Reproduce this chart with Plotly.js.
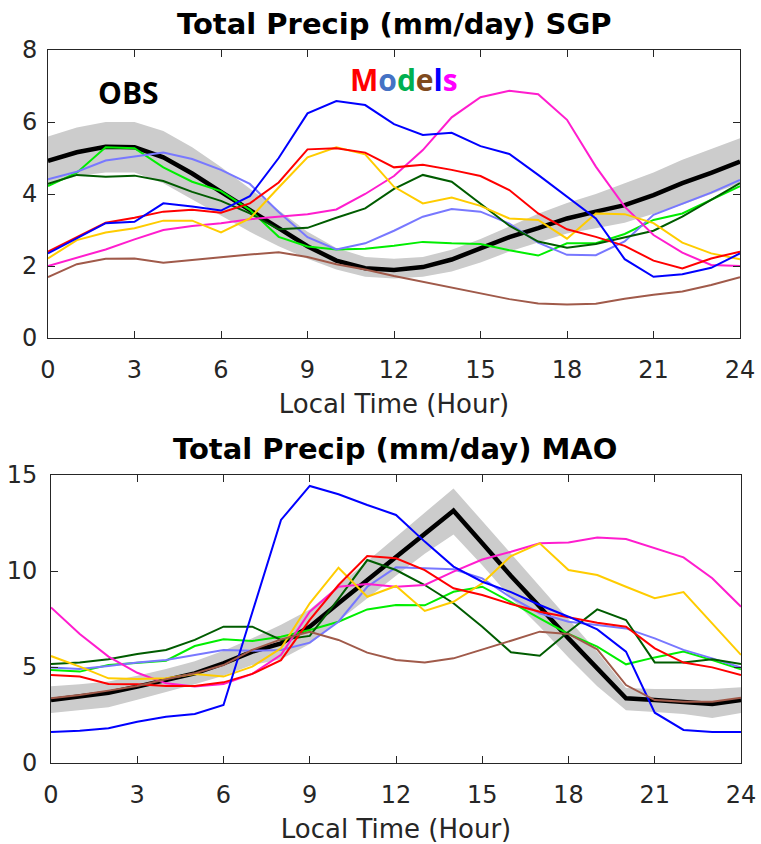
<!DOCTYPE html>
<html>
<head>
<meta charset="utf-8">
<script src="https://cdn.plot.ly/plotly-3.0.1.min.js"></script>
<style>html,body{margin:0;padding:0;background:#fff;}#chart{width:761px;height:844px;}</style>
</head>
<body>
<div id="chart"></div>
<script>
// Local hour (x values)
const hours = [0,1,2,3,4,5,6,7,8,9,10,11,12,13,14,15,16,17,18,19,20,21,22,23,24];
const hourTicks = [0,3,6,9,12,15,18,21,24];

// ---------- SGP (top panel) ----------
const sgpObs      = [4.92,5.16,5.31,5.30,5.02,4.57,4.06,3.56,3.05,2.55,2.15,1.94,1.89,1.97,2.18,2.50,2.80,3.05,3.32,3.51,3.69,3.97,4.30,4.59,4.90];
const sgpObsHigh  = [5.60,5.85,6.00,6.00,5.75,5.30,4.75,4.15,3.55,2.95,2.50,2.25,2.20,2.25,2.45,2.75,3.10,3.45,3.75,4.00,4.30,4.60,4.95,5.25,5.55];
const sgpObsLow   = [4.25,4.50,4.60,4.60,4.30,3.85,3.40,2.95,2.55,2.20,1.90,1.70,1.65,1.70,1.85,2.10,2.40,2.65,2.90,3.05,3.20,3.45,3.70,4.00,4.30];
const sgpBlue     = [2.35,2.77,3.19,3.23,3.74,3.65,3.54,3.94,5.00,6.24,6.58,6.47,5.94,5.64,5.70,5.33,5.11,4.53,3.93,3.32,2.19,1.70,1.77,1.95,2.35];
const sgpRed      = [2.40,2.81,3.20,3.34,3.51,3.56,3.48,3.74,4.32,5.24,5.27,5.15,4.74,4.81,4.67,4.50,4.11,3.46,3.02,2.81,2.56,2.15,1.93,2.21,2.40];
const sgpYellow   = [2.21,2.72,2.93,3.05,3.26,3.26,2.93,3.32,4.18,5.02,5.30,5.10,4.20,3.74,3.90,3.67,3.32,3.28,2.76,3.46,3.44,3.19,2.65,2.35,2.19];
const sgpMagenta  = [2.00,2.24,2.46,2.74,3.00,3.11,3.19,3.30,3.38,3.44,3.57,4.00,4.50,5.22,6.13,6.69,6.87,6.77,6.06,4.76,3.65,2.86,2.37,2.03,2.00];
const sgpDkGreen  = [4.28,4.53,4.48,4.51,4.36,4.06,3.81,3.46,3.02,3.06,3.34,3.60,4.14,4.53,4.34,3.74,3.12,2.68,2.51,2.61,2.79,2.98,3.37,3.83,4.30];
const sgpGreen    = [4.22,4.59,5.30,5.27,4.74,4.34,4.08,3.56,2.81,2.54,2.46,2.48,2.56,2.67,2.63,2.61,2.44,2.29,2.63,2.63,2.89,3.28,3.46,3.85,4.22];
const sgpLtBlue   = [4.41,4.62,4.93,5.04,5.15,4.97,4.67,4.28,3.50,2.80,2.46,2.63,2.98,3.37,3.58,3.51,3.18,2.65,2.31,2.30,2.68,3.42,3.74,4.04,4.39];
const sgpBrown    = [1.69,2.05,2.20,2.21,2.09,2.17,2.23,2.32,2.38,2.25,2.05,1.90,1.72,1.56,1.39,1.25,1.08,0.96,0.93,0.95,1.09,1.20,1.29,1.47,1.69];

// ---------- MAO (bottom panel) ----------
const maoObs      = [3.28,3.45,3.66,3.98,4.32,4.67,5.19,5.80,6.23,7.10,8.32,9.53,10.75,11.96,13.14,11.44,9.74,8.14,6.49,4.93,3.37,3.28,3.19,3.07,3.28];
const maoObsHigh  = [4.00,4.10,4.25,4.55,4.90,5.30,5.85,6.50,7.20,8.00,9.25,10.50,11.75,13.00,14.30,12.60,10.90,9.20,7.50,5.80,3.90,3.85,3.85,3.85,3.95];
const maoObsLow   = [2.60,2.75,2.90,3.30,3.70,4.10,4.55,5.10,5.40,6.20,7.40,8.60,9.75,10.90,11.90,10.30,8.60,7.10,5.50,4.00,2.75,2.65,2.55,2.35,2.60];
const maoBlue     = [1.61,1.68,1.81,2.15,2.41,2.55,3.02,7.85,12.66,14.43,14.00,13.44,12.92,11.53,10.23,9.44,8.90,8.23,7.62,6.96,5.80,2.62,1.72,1.61,1.61];
const maoRed      = [4.58,4.50,4.11,4.10,4.01,4.01,4.20,4.64,5.36,7.45,9.27,10.78,10.66,10.05,9.10,8.75,8.28,7.88,7.59,7.31,7.10,5.97,5.23,4.98,4.58];
const maoYellow   = [5.57,5.02,4.41,4.38,4.41,4.64,4.50,5.02,5.97,8.32,10.17,8.66,9.22,7.92,8.40,9.36,10.78,11.44,10.05,9.79,9.18,8.58,8.90,7.24,5.63];
const maoMagenta  = [8.10,6.72,5.54,4.70,4.15,3.98,4.11,4.64,5.63,7.88,9.18,9.32,9.18,9.27,9.97,10.60,11.00,11.44,11.48,11.75,11.67,11.18,10.71,9.62,8.14];
const maoDkGreen  = [5.16,5.24,5.40,5.68,5.89,6.41,7.10,7.10,6.41,6.62,8.55,10.57,10.05,9.27,8.32,7.10,5.77,5.59,6.84,8.00,7.45,5.24,5.24,5.40,5.16];
const maoGreen    = [4.84,4.76,5.10,5.23,5.33,6.09,6.44,6.35,6.58,6.93,7.36,8.00,8.23,8.21,8.92,9.18,8.38,7.53,6.72,6.06,5.14,5.50,5.80,5.36,4.88];
const maoLtBlue   = [4.97,4.90,5.05,5.23,5.36,5.63,5.89,5.85,5.89,6.27,7.36,9.18,10.19,10.14,10.09,9.62,8.62,7.80,7.36,7.19,7.01,6.49,5.89,5.45,4.97];
const maoBrown    = [3.37,3.54,3.77,4.01,4.36,4.67,5.10,5.89,6.44,6.84,6.41,5.75,5.36,5.23,5.45,5.89,6.37,6.84,6.72,5.92,4.06,3.28,3.19,3.19,3.40];

const modelColors = {
  blue: '#0000FF', red: '#FF0000', yellow: '#FFCC00', magenta: '#FF1DCE',
  dkgreen: '#005C00', green: '#00EE00', ltblue: '#7878FF', brown: '#A05A4A'
};

function panel(xa, ya, obs, hi, lo, models) {
  const tr = [];
  tr.push({x: hours, y: lo, xaxis: xa, yaxis: ya, mode: 'lines', line: {width: 0, color: '#CCCCCC'}, hoverinfo: 'skip', showlegend: false});
  tr.push({x: hours, y: hi, xaxis: xa, yaxis: ya, mode: 'lines', fill: 'tonexty', fillcolor: '#CCCCCC', line: {width: 0, color: '#CCCCCC'}, hoverinfo: 'skip', showlegend: false});
  tr.push({x: hours, y: obs, xaxis: xa, yaxis: ya, mode: 'lines', line: {width: 4.5, color: '#000000'}, showlegend: false});
  models.forEach(m => tr.push({x: hours, y: m[0], xaxis: xa, yaxis: ya, mode: 'lines', line: {width: 2, color: m[1]}, showlegend: false}));
  return tr;
}

const data = [].concat(
  panel('x', 'y', sgpObs, sgpObsHigh, sgpObsLow, [
    [sgpBrown, modelColors.brown], [sgpGreen, modelColors.green], [sgpLtBlue, modelColors.ltblue],
    [sgpDkGreen, modelColors.dkgreen], [sgpMagenta, modelColors.magenta], [sgpYellow, modelColors.yellow],
    [sgpRed, modelColors.red], [sgpBlue, modelColors.blue]
  ]),
  panel('x2', 'y2', maoObs, maoObsHigh, maoObsLow, [
    [maoGreen, modelColors.green], [maoLtBlue, modelColors.ltblue], [maoDkGreen, modelColors.dkgreen],
    [maoMagenta, modelColors.magenta], [maoYellow, modelColors.yellow], [maoRed, modelColors.red],
    [maoBlue, modelColors.blue], [maoBrown, modelColors.brown]
  ])
);

const W = 761, H = 844;
const axisCommon = {
  showline: true, linecolor: '#262626', linewidth: 1, mirror: 'ticks',
  ticks: 'inside', ticklen: 7, tickcolor: '#262626', tickwidth: 1,
  showgrid: false, zeroline: false,
  tickfont: {family: 'DejaVu Sans, sans-serif', size: 24, color: '#262626'}
};
const xCommon = Object.assign({}, axisCommon, {
  range: [0, 24], tickvals: hourTicks, ticklabelstandoff: 10,
  title: {text: 'Local Time (Hour)', font: {family: 'DejaVu Sans, sans-serif', size: 26, color: '#262626'}, standoff: 12}
});

const layout = {
  width: W, height: H,
  margin: {l: 0, r: 0, t: 0, b: 0},
  paper_bgcolor: '#ffffff', plot_bgcolor: '#ffffff',
  showlegend: false,
  xaxis: Object.assign({}, xCommon, {domain: [48 / W, 740 / W], anchor: 'y'}),
  yaxis: Object.assign({}, axisCommon, {domain: [(H - 338) / H, (H - 50) / H], range: [0, 8], tickvals: [0, 2, 4, 6, 8], anchor: 'x', ticklabelstandoff: 5}),
  xaxis2: Object.assign({}, xCommon, {domain: [51 / W, 741 / W], anchor: 'y2'}),
  yaxis2: Object.assign({}, axisCommon, {domain: [(H - 763) / H, (H - 475) / H], range: [0, 15], tickvals: [0, 5, 10, 15], anchor: 'x2', ticklabelstandoff: 8}),
  annotations: [
    {text: 'Total Precip (mm/day) SGP', xref: 'paper', yref: 'paper', x: 394 / W, y: 1 - 24 / H, xanchor: 'center', yanchor: 'middle', showarrow: false,
     font: {family: 'DejaVu Sans, sans-serif', size: 29, color: '#000000', weight: 'bold'}},
    {text: 'Total Precip (mm/day) MAO', xref: 'paper', yref: 'paper', x: 395 / W, y: 1 - 449 / H, xanchor: 'center', yanchor: 'middle', showarrow: false,
     font: {family: 'DejaVu Sans, sans-serif', size: 29, color: '#000000', weight: 'bold'}},
    {text: '<b>OBS</b>', xref: 'paper', yref: 'paper', x: 128 / W, y: 1 - 93 / H, xanchor: 'center', yanchor: 'middle', showarrow: false,
     font: {family: 'Open Sans, sans-serif', size: 30, color: '#000000'}},
    {text: '<b><span style="color:#FF0000">M</span><span style="color:#4472C4">o</span><span style="color:#00B050">d</span><span style="color:#7F4A1E">e</span><span style="color:#0000FF">l</span><span style="color:#FF00FF">s</span></b>',
     xref: 'paper', yref: 'paper', x: 404 / W, y: 1 - 80 / H, xanchor: 'center', yanchor: 'middle', showarrow: false,
     font: {family: 'Open Sans, sans-serif', size: 30, color: '#000000'}}
  ]
};

Plotly.newPlot('chart', data, layout, {staticPlot: true, displayModeBar: false});
</script>
</body>
</html>
